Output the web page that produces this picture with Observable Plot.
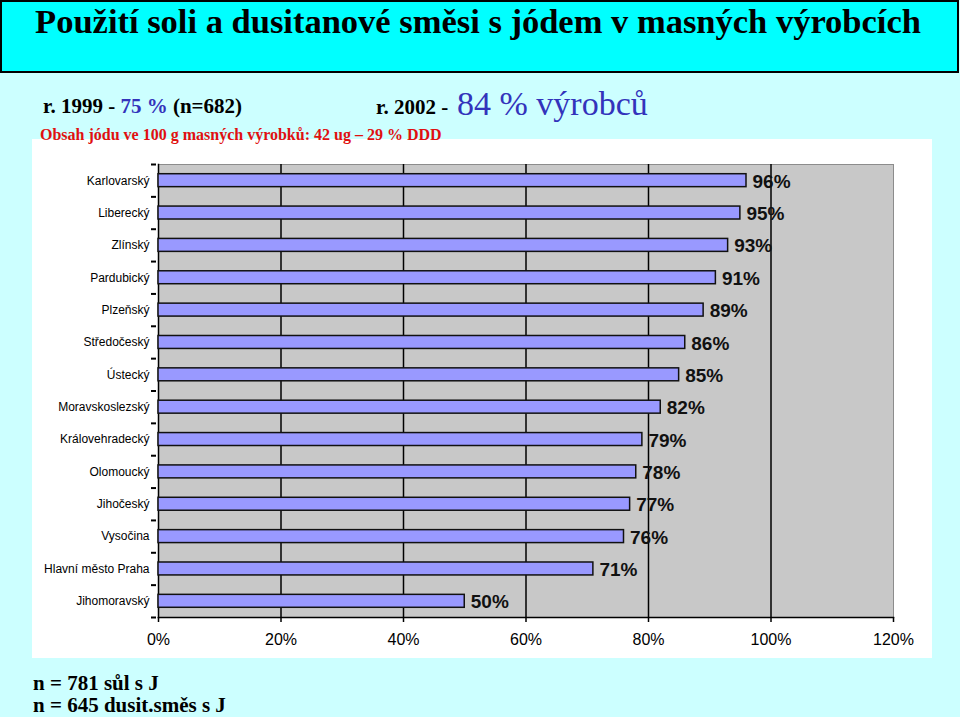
<!DOCTYPE html>
<html>
<head>
<meta charset="utf-8">
<script src="https://cdn.jsdelivr.net/npm/d3@7"></script>
<script src="https://cdn.jsdelivr.net/npm/@observablehq/plot@0.6"></script>
<style>
  html, body { margin: 0; padding: 0; }
  body { width: 960px; height: 717px; background: #ccffff; position: relative; overflow: hidden; }
  .serif { font-family: "Liberation Serif", "Times New Roman", serif; position: absolute; white-space: nowrap; z-index: 2; }
  #titlebox { position: absolute; left: 0; top: 0; width: 955px; height: 69px; background: #00ffff; border: 2px solid #000; }
  #chart { position: absolute; left: 32px; top: 139px; z-index: 1; }
</style>
</head>
<body>
<div id="titlebox"></div>
<div class="serif" style="left:0;width:956px;text-align:center;top:4px;font-size:34.5px;line-height:34.5px;font-weight:bold;color:#000;">Použití soli a dusitanové směsi s jódem v masných výrobcích</div>
<div class="serif" style="left:43px;top:96px;font-size:21px;line-height:21px;font-weight:bold;color:#000;">r. 1999 - <span style="color:#3333bb">75 %</span> (n=682)</div>
<div class="serif" style="left:40px;top:127px;font-size:16px;line-height:16px;font-weight:bold;color:#e01010;">Obsah jódu ve 100 g masných výrobků: 42 ug – 29 % DDD</div>
<div class="serif" style="left:376px;top:97px;font-size:21px;line-height:21px;font-weight:bold;color:#000;">r. 2002 -</div>
<div class="serif" style="left:457px;top:87px;font-size:34px;line-height:34px;color:#3333bb;">84 % výrobců</div>
<div id="chart"></div>
<div class="serif" style="left:33px;top:673px;font-size:21px;line-height:21px;font-weight:bold;color:#000;">n = 781 sůl s J</div>
<div class="serif" style="left:33px;top:695px;font-size:21px;line-height:21px;font-weight:bold;color:#000;">n = 645 dusit.směs s J</div>
<script>
const regions = ["Karlovarský","Liberecký","Zlínský","Pardubický","Plzeňský","Středočeský","Ústecký","Moravskoslezský","Královehradecký","Olomoucký","Jihočeský","Vysočina","Hlavní město Praha","Jihomoravský"];
const values = [96,95,93,91,89,86,85,82,79,78,77,76,71,50];
const xTicks = [0,20,40,60,80,100,120];
const gridTicks = [20,40,60,80,100];

const data = regions.map((r, i) => ({region: r, value: values[i], i}));
const n = regions.length;
const labelPos = d3.range(n).map(i => i + 0.5);
const boundaries = d3.range(n + 1);

const chart = Plot.plot({
  width: 900, height: 519,
  marginLeft: 126, marginRight: 39, marginTop: 25, marginBottom: 41,
  style: {background: "white", fontFamily: "'Liberation Sans', Arial, sans-serif", color: "black", overflow: "visible"},
  x: {domain: [0, 120], label: null},
  y: {domain: [0, n], reverse: true, label: null},
  marks: [
    Plot.frame({fill: "#c8c8c8", stroke: "#8c8c8c"}),
    Plot.gridX(gridTicks, {stroke: "black", strokeOpacity: 1, strokeWidth: 1.5}),
    Plot.frame({anchor: "bottom", stroke: "black", strokeWidth: 1.5}),
    Plot.frame({anchor: "left", stroke: "black", strokeWidth: 1.5}),
    Plot.rect(data, {x1: 0, x2: "value", y1: d => d.i + 0.3, y2: d => d.i + 0.7, fill: "#9999ff", stroke: "#111", strokeWidth: 1.5}),
    Plot.text(data, {x: "value", y: d => d.i + 0.5, text: d => d.value + "%", textAnchor: "start", dx: 6, dy: 1, fontSize: 19, fontWeight: "bold", fill: "#111"}),
    Plot.axisX(xTicks, {tickSize: 5, tickPadding: 11, fontSize: 16, tickFormat: d => d + "%", stroke: "black", strokeWidth: 1.5}),
    Plot.axisY(labelPos, {tickSize: 0, tickPadding: 9, fontSize: 12, tickFormat: d => regions[Math.floor(d)]}),
    Plot.tickY(boundaries, {y: d => d, dx: -2, inset: 0, stroke: "black", strokeWidth: 2, render: (index, scales, values, dims, context, next) => {
      const g = next(index, scales, values, dims, context);
      d3.select(g).selectAll("line").attr("x1", dims.marginLeft - 5).attr("x2", dims.marginLeft).attr("transform", null);
      return g;
    }})
  ]
});
document.getElementById("chart").appendChild(chart);
</script>
</body>
</html>
